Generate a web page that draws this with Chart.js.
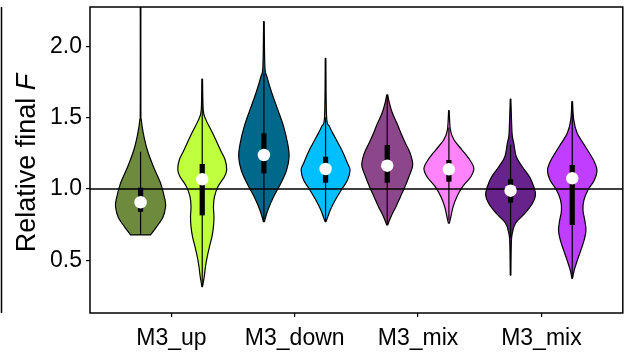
<!DOCTYPE html>
<html>
<head>
<meta charset="utf-8">
<script src="https://cdn.jsdelivr.net/npm/chart.js@4"></script>
<style>
html,body{margin:0;padding:0;background:#fff;}
canvas{display:block;}
</style>
</head>
<body>
<canvas id="c" width="629" height="360"></canvas>
<script>
// ---- data ----
const categories = ['M3_up', 'M3_down', 'M3_mix', 'M3_mix'];
const yTicks = [0.5, 1.0, 1.5, 2.0];
const refLine = 1.0;
// violin positions: group index and side (-1 left, +1 right)
const violinGroup = [1, 1, 2, 2, 3, 3, 4, 4];
const violinSide = [-1, 1, -1, 1, -1, 1, -1, 1];

// density outlines: value (y) and relative half-width (density)
const v1Y = [0.678, 0.734, 0.804, 0.874, 0.923, 1.042, 1.154, 1.273, 1.39, 1.484, 1.6, 2.4];
const v1W = [0.40, 0.64, 0.90, 1.00, 0.98, 0.80, 0.52, 0.27, 0.11, 0.03, 0.012, 0.012];
const v2Y = [0.315, 0.385, 0.455, 0.526, 0.596, 0.666, 0.736, 0.806, 0.876, 0.946, 1.016, 1.086, 1.135, 1.203, 1.273, 1.39, 1.484, 1.553, 1.77];
const v2W = [0.012, 0.08, 0.13, 0.20, 0.29, 0.39, 0.45, 0.47, 0.45, 0.49, 0.63, 0.89, 0.98, 0.92, 0.73, 0.42, 0.15, 0.04, 0.012];
const v3Y = [0.771, 0.853, 0.946, 1.04, 1.133, 1.226, 1.32, 1.437, 1.554, 1.671, 1.787, 1.857, 2.172];
const v3W = [0.02, 0.16, 0.39, 0.68, 0.91, 1.01, 0.95, 0.79, 0.56, 0.32, 0.12, 0.04, 0.012];
const v4Y = [0.771, 0.853, 0.923, 0.993, 1.063, 1.133, 1.18, 1.273, 1.367, 1.437, 1.507, 1.916];
const v4W = [0.02, 0.19, 0.39, 0.63, 0.88, 0.98, 0.88, 0.65, 0.36, 0.16, 0.04, 0.012];
const v5Y = [0.748, 0.806, 0.876, 0.946, 1.016, 1.086, 1.168, 1.25, 1.32, 1.39, 1.46, 1.53, 1.60, 1.659];
const v5W = [0.02, 0.15, 0.35, 0.53, 0.71, 0.87, 1.02, 0.92, 0.73, 0.55, 0.39, 0.21, 0.09, 0.02];
const v6Y = [0.76, 0.806, 0.876, 0.946, 1.016, 1.086, 1.145, 1.203, 1.273, 1.343, 1.413, 1.549];
const v6W = [0.02, 0.08, 0.17, 0.32, 0.55, 0.88, 1.0, 0.84, 0.53, 0.21, 0.06, 0.012];
const v7Y = [0.397, 0.62, 0.69, 0.76, 0.83, 0.9, 0.958, 1.016, 1.086, 1.156, 1.226, 1.32, 1.39, 1.629];
const v7W = [0.012, 0.03, 0.07, 0.2, 0.58, 0.88, 1.0, 0.93, 0.76, 0.47, 0.23, 0.13, 0.06, 0.012];
const v8Y = [0.374, 0.432, 0.503, 0.573, 0.643, 0.713, 0.783, 0.853, 0.923, 0.993, 1.063, 1.133, 1.203, 1.296, 1.39, 1.484, 1.612];
const v8W = [0.012, 0.08, 0.21, 0.35, 0.48, 0.55, 0.5, 0.43, 0.47, 0.63, 0.89, 0.99, 0.85, 0.53, 0.2, 0.06, 0.012];

// box summary per violin
const q1 = [0.841, 0.815, 1.11, 1.044, 1.044, 1.051, 0.904, 0.748];
const q3 = [1.009, 1.175, 1.39, 1.226, 1.308, 1.203, 1.068, 1.168];
const medians = [0.907, 1.068, 1.238, 1.14, 1.163, 1.138, 0.988, 1.075];
const whiskerLo = [0.678, 0.315, 0.771, 0.775, 0.748, 0.78, 0.66, 0.374];
const whiskerHi = [1.26, 1.77, 1.81, 1.50, 1.659, 1.43, 1.31, 1.612];

// ---- styles ----
const violinColors = ['#6E8B3D', '#C0FF3E', '#00688B', '#00BFFF', '#8B4789', '#FF83FA', '#68228B', '#BF3EFF'];
const dodge = 0.25;
const maxHalfWidth = 0.2023;
const FONT = "'Liberation Sans', Arial, Helvetica, sans-serif";

const densY = [v1Y, v2Y, v3Y, v4Y, v5Y, v6Y, v7Y, v8Y];
const densW = [v1W, v2W, v3W, v4W, v5W, v6W, v7W, v8W];
const positions = violinGroup.map((g, i) => g + violinSide[i] * dodge);

function catmull(ctx, pts) {
  for (let i = 0; i < pts.length - 1; i++) {
    const p0 = pts[Math.max(0, i - 1)], p1 = pts[i], p2 = pts[i + 1], p3 = pts[Math.min(pts.length - 1, i + 2)];
    const c1x = p1.x + (p2.x - p0.x) / 6, c1y = p1.y + (p2.y - p0.y) / 6;
    const c2x = p2.x - (p3.x - p1.x) / 6, c2y = p2.y - (p3.y - p1.y) / 6;
    ctx.bezierCurveTo(c1x, c1y, c2x, c2y, p2.x, p2.y);
  }
}

const violinPlugin = {
  id: 'violins',
  beforeDatasetsDraw(chart) {
    const {ctx, chartArea: a, scales: {x, y}} = chart;
    ctx.save();
    ctx.beginPath();
    ctx.rect(a.left, a.top, a.right - a.left, a.bottom - a.top);
    ctx.clip();
    // violins
    for (let i = 0; i < positions.length; i++) {
      const pos = positions[i];
      const left = densY[i].map((v, k) => ({x: x.getPixelForValue(pos - densW[i][k] * maxHalfWidth), y: y.getPixelForValue(v)}));
      const right = densY[i].map((v, k) => ({x: x.getPixelForValue(pos + densW[i][k] * maxHalfWidth), y: y.getPixelForValue(v)})).reverse();
      ctx.beginPath();
      ctx.moveTo(left[0].x, left[0].y);
      catmull(ctx, left);
      ctx.lineTo(right[0].x, right[0].y);
      catmull(ctx, right);
      ctx.closePath();
      ctx.fillStyle = violinColors[i];
      ctx.fill();
      ctx.lineWidth = 1.2;
      ctx.strokeStyle = '#000';
      ctx.lineJoin = 'round';
      ctx.stroke();
    }
    // reference line
    const yr = y.getPixelForValue(refLine);
    ctx.beginPath();
    ctx.moveTo(a.left, yr);
    ctx.lineTo(a.right, yr);
    ctx.lineWidth = 1.5;
    ctx.strokeStyle = '#000';
    ctx.stroke();
    // whiskers and boxes
    for (let i = 0; i < positions.length; i++) {
      const px = x.getPixelForValue(positions[i]);
      ctx.beginPath();
      ctx.moveTo(px, y.getPixelForValue(whiskerLo[i]));
      ctx.lineTo(px, y.getPixelForValue(whiskerHi[i]));
      ctx.lineWidth = 1.2;
      ctx.stroke();
      const yt = y.getPixelForValue(q3[i]), yb = y.getPixelForValue(q1[i]);
      ctx.fillStyle = '#000';
      ctx.fillRect(px - 2.6, yt, 5.2, yb - yt);
    }
    ctx.restore();
  },
  afterDraw(chart) {
    const {ctx, chartArea: a} = chart;
    ctx.save();
    ctx.strokeStyle = '#000';
    ctx.lineWidth = 1.5;
    ctx.strokeRect(a.left, a.top, a.right - a.left, a.bottom - a.top);
    // left edge rule
    ctx.beginPath();
    ctx.moveTo(1.5, a.top);
    ctx.lineTo(1.5, a.bottom);
    ctx.stroke();
    // y axis title
    ctx.translate(34.5, 163);
    ctx.rotate(-Math.PI / 2);
    ctx.fillStyle = '#000';
    ctx.textBaseline = 'alphabetic';
    const t1 = 'Relative final ', t2 = 'F';
    ctx.font = '27px ' + FONT;
    const w1 = ctx.measureText(t1).width;
    ctx.font = 'italic 27px ' + FONT;
    const w2 = ctx.measureText(t2).width;
    const sx = -(w1 + w2) / 2;
    ctx.font = '27px ' + FONT;
    ctx.textAlign = 'left';
    ctx.fillText(t1, sx, 0);
    ctx.font = 'italic 27px ' + FONT;
    ctx.fillText(t2, sx + w1, 0);
    ctx.restore();
  }
};

new Chart(document.getElementById('c'), {
  type: 'scatter',
  data: {
    datasets: [{
      data: positions.map((p, i) => ({x: p, y: medians[i]})),
      pointRadius: 6.2,
      pointHoverRadius: 6.2,
      pointBackgroundColor: '#fff',
      pointBorderWidth: 0,
      pointBorderColor: '#fff'
    }]
  },
  options: {
    responsive: false,
    devicePixelRatio: 1,
    animation: false,
    events: [],
    layout: {padding: {top: 7, right: 5, left: 0, bottom: 0}},
    plugins: {legend: {display: false}, tooltip: {enabled: false}, title: {display: false}},
    scales: {
      x: {
        type: 'linear',
        min: 0.34, max: 4.66,
        afterBuildTicks: s => { s.ticks = categories.map((c, i) => ({value: i + 1})); },
        afterFit: s => { s.height = 47; s.paddingLeft = 0; s.paddingRight = 0; },
        ticks: {
          callback: v => categories[Math.round(v) - 1],
          autoSkip: false, maxRotation: 0, padding: 8,
          color: '#000', font: {family: FONT, size: 23}
        },
        grid: {display: true, drawOnChartArea: false, drawTicks: true, tickLength: 4, color: '#000', lineWidth: 1.2},
        border: {display: false}
      },
      y: {
        type: 'linear',
        min: 0.131, max: 2.275,
        afterBuildTicks: s => { s.ticks = yTicks.map(v => ({value: v})); },
        afterFit: s => { s.width = 90; s.paddingTop = 0; s.paddingBottom = 0; },
        ticks: {
          callback: v => Number(v).toFixed(1),
          padding: 4,
          color: '#000', font: {family: FONT, size: 23}
        },
        grid: {display: true, drawOnChartArea: false, drawTicks: true, tickLength: 4, color: '#000', lineWidth: 1.2},
        border: {display: false}
      }
    }
  },
  plugins: [violinPlugin]
});
</script>
</body>
</html>
